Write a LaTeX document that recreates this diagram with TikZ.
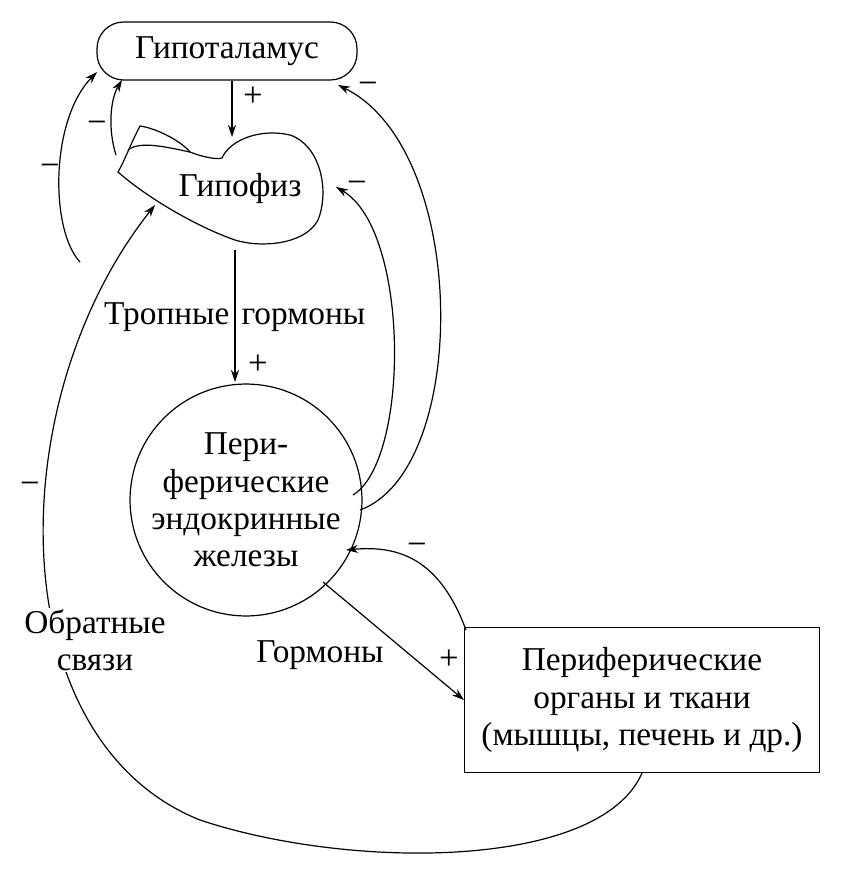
\documentclass[tikz,border=0pt]{standalone}
\usepackage{fontspec}
\setmainfont{Liberation Serif}
\usetikzlibrary{arrows.meta}
\begin{document}
\begin{tikzpicture}[x=0.75pt,y=-0.75pt,
  every node/.style={font=\fontsize{25}{28}\selectfont},
  ln/.style={line width=0.9pt},
  ar/.style={ln,-{Stealth[length=9pt,width=6pt]}},
  sg/.style={font=\fontsize{26}{28}\selectfont}]
\useasboundingbox (0,0) rectangle (853,878);
\node[draw,ln,rounded corners=20pt,minimum width=260*0.75pt,minimum height=58*0.75pt] (hyp) at (227,51) {Гипоталамус};
\draw[ln] (140,126) .. controls (155,128) and (180,140) .. (190,152)
  .. controls (200,156) and (215,160) .. (222,158)
  .. controls (230,140) and (260,128) .. (290,135)
  .. controls (320,145) and (330,190) .. (318,220)
  .. controls (305,245) and (260,248) .. (235,240)
  .. controls (200,228) and (150,200) .. (118,172)
  .. controls (125,160) and (130,145) .. (140,126) -- cycle;
\draw[ln] (128,150) .. controls (140,140) and (170,148) .. (190,152);
\node (pit) at (240,188) {Гипофиз};
\coordinate (pitT) at (232,137);
\coordinate (pitB) at (235,250);
\node[draw,ln,circle,minimum size=220*0.75pt,align=center,inner sep=0pt] (per) at (246,500) {Пери-\\ферические\\эндокринные\\железы};
\node[draw,ln,minimum width=355*0.75pt,minimum height=145*0.75pt,align=center] (org) at (642,700) {Периферические\\органы и ткани\\(мышцы, печень и др.)};
\draw[ar] (hyp.south -| pitT) -- (pitT);
\node[sg] at (253,97) {+};
\draw[ar] (116,155) .. controls (108,130) and (110,100) .. (122,80);
\node[sg] at (97,127) {−};
\draw[ar] (80,262) .. controls (50,230) and (50,120) .. (97,72);
\node[sg] at (50,170) {−};
\draw[ar] (pitB) -- (235,382);
\node[anchor=base east,inner sep=1pt] at (231,324) {Тропные};
\node[anchor=base west,inner sep=1pt] at (240,324) {гормоны};
\node[sg] at (258,365) {+};
\draw[ar] (353,495) .. controls (410,460) and (410,230) .. (336,187);
\node[sg] at (357,187) {−};
\draw[ar] (360,510) .. controls (470,470) and (470,150) .. (338,85);
\node[sg] at (368,88) {−};
\draw[ar] (323,582) -- (464,700);
\node at (320,655) {Гормоны};
\node[sg] at (449,660) {+};
\draw[ar] (466,630) .. controls (440,560) and (400,545) .. (346,550);
\node[sg] at (417,549) {−};
\draw[ar] (642,773) .. controls (600,870) and (350,870) .. (200,820)
  .. controls (0,740) and (0,400) .. (155,205);
\node[sg] at (30,488) {−};
\node[align=center,fill=white,inner sep=1pt] at (95,640) {Обратные\\связи};
\end{tikzpicture}
\end{document}
